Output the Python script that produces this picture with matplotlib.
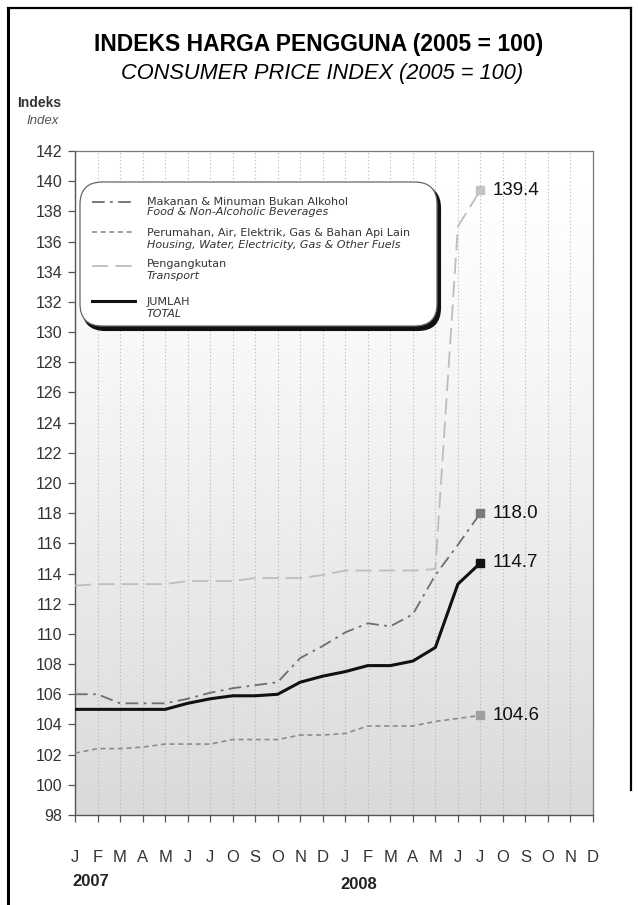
import matplotlib
matplotlib.use("Agg")
import matplotlib.pyplot as plt
import numpy as np
from matplotlib.lines import Line2D
from matplotlib.patches import FancyBboxPatch

# Monthly CPI, Jan 2007 .. Jul 2008 (2005 = 100)
months = ["J", "F", "M", "A", "M", "J", "J", "O", "S", "O", "N", "D"] * 2
food = [106.0, 106.0, 105.4, 105.4, 105.4, 105.7, 106.1, 106.4, 106.6, 106.8,
        108.4, 109.2, 110.1, 110.7, 110.5, 111.3, 113.9, 115.9, 118.0]
housing = [102.1, 102.4, 102.4, 102.5, 102.7, 102.7, 102.7, 103.0, 103.0, 103.0,
           103.3, 103.3, 103.4, 103.9, 103.9, 103.9, 104.2, 104.4, 104.6]
transport = [113.2, 113.3, 113.3, 113.3, 113.3, 113.5, 113.5, 113.5, 113.7, 113.7,
             113.7, 113.9, 114.2, 114.2, 114.2, 114.2, 114.3, 137.0, 139.4]
total = [105.0, 105.0, 105.0, 105.0, 105.0, 105.4, 105.7, 105.9, 105.9, 106.0,
         106.8, 107.2, 107.5, 107.9, 107.9, 108.2, 109.1, 113.3, 114.7]

legend_labels = [
    ("Makanan & Minuman Bukan Alkohol", "Food & Non-Alcoholic Beverages"),
    ("Perumahan, Air, Elektrik, Gas & Bahan Api Lain",
     "Housing, Water, Electricity, Gas & Other Fuels"),
    ("Pengangkutan", "Transport"),
    ("JUMLAH", "TOTAL"),
]

W, H = 638, 905
SANS = "Liberation Sans"
NARROW = dict(family=SANS, stretch="condensed")

fig = plt.figure(figsize=(W / 100, H / 100), dpi=100)
fig.patch.set_facecolor("white")


def fx(px):
    return px / W


def fy(py):
    return 1 - py / H


ax = fig.add_axes([fx(75), fy(815), fx(593) - fx(75), fy(151) - fy(815)])
ax.set_xlim(0, 23)
ax.set_ylim(98, 142)

# soft white-to-grey background
grad = 1 - 0.15 * np.linspace(0, 1, 256) ** 1.3
ax.imshow(grad.reshape(-1, 1), extent=[0, 23, 98, 142], aspect="auto",
          cmap="gray", vmin=0, vmax=1, zorder=0, origin="upper")

for i in range(24):
    ax.axvline(i, color="#b4b4b4", lw=0.8, ls=(0, (1, 2.2)), zorder=1)

x = np.arange(len(total))
styles = [
    (food, "#6e6e6e", (0, (7, 3, 1.5, 3)), 1.3, "#7a7a7a"),
    (housing, "#8c8c8c", (0, (3, 2.2)), 1.2, "#a0a0a0"),
    (transport, "#bdbdbd", (0, (9, 4)), 1.3, "#c4c4c4"),
    (total, "#111111", "-", 2.2, "#111111"),
]
for vals, col, ls, lw, mcol in styles:
    ax.plot(x, vals, color=col, ls=ls, lw=lw, zorder=3)
    ax.plot(x[-1], vals[-1], marker="s", ms=5.5, color=mcol, mec=mcol, zorder=4)
    ax.annotate(f"{vals[-1]:.1f}", (x[-1], vals[-1]), xytext=(9, 0),
                textcoords="offset points", va="center", ha="left",
                fontsize=13.5, color="#111111", zorder=5, **NARROW)

ax.set_yticks(np.arange(98, 143, 2))
ax.set_xticks(np.arange(24))
ax.set_xticklabels(months)
ax.tick_params(axis="y", length=5, width=0.9, color="#555555", labelsize=11.5,
               labelcolor="#333333", pad=4)
ax.tick_params(axis="x", length=5, width=0.9, color="#555555", labelsize=12,
               labelcolor="#333333", pad=20)
for lab in ax.get_xticklabels() + ax.get_yticklabels():
    lab.set_family(SANS)
    lab.set_stretch("condensed")
for side in ["left", "bottom"]:
    ax.spines[side].set_color("#555555")
    ax.spines[side].set_linewidth(1.0)
for side in ["top", "right"]:
    ax.spines[side].set_color("#777777")
    ax.spines[side].set_linewidth(0.9)

# year labels under the month letters
fig.text(fx(72), fy(881), "2007", fontsize=12, weight="bold", color="#222222",
         va="center", ha="left", **NARROW)
fig.text(fx(340), fy(884), "2008", fontsize=12, weight="bold", color="#222222",
         va="center", ha="left", **NARROW)

# titles
fig.text(0.5, fy(45), "INDEKS HARGA PENGGUNA (2005 = 100)", ha="center",
         va="center", fontsize=16.5, weight="bold", family=SANS, stretch="normal")
fig.text(0.505, fy(73), "CONSUMER PRICE INDEX (2005 = 100)", ha="center",
         va="center", fontsize=15.7, style="italic", family=SANS, stretch="normal")
fig.text(fx(17), fy(103), "Indeks", ha="left", va="center", fontsize=10,
         weight="bold", color="#333333", **NARROW)
fig.text(fx(26), fy(121), "Index", ha="left", va="center", fontsize=9.5,
         style="italic", color="#555555", **NARROW)

# legend box with dark drop shadow
bx0, by0, bx1, by1 = 80, 182, 437, 326
shadow = FancyBboxPatch((fx(bx0 + 3), fy(by1 + 4)), fx(bx1 - bx0), fy(by0) - fy(by1),
                        boxstyle="round,pad=0,rounding_size=0.035",
                        transform=fig.transFigure, facecolor="#111111",
                        edgecolor="#111111", lw=1.5, zorder=6, mutation_aspect=W / H)
box = FancyBboxPatch((fx(bx0), fy(by1)), fx(bx1 - bx0), fy(by0) - fy(by1),
                     boxstyle="round,pad=0,rounding_size=0.035",
                     transform=fig.transFigure, facecolor="white",
                     edgecolor="#666666", lw=0.9, zorder=7, mutation_aspect=W / H)
fig.add_artist(shadow)
fig.add_artist(box)

rows = [(202, 212), (233, 245), (264, 276), (302, 314)]
for (vals, col, ls, lw, _), (ty1, ty2), (l1, l2), ly in zip(
        styles, rows, legend_labels, [202, 232, 266, 301]):
    fig.add_artist(Line2D([fx(92), fx(135)], [fy(ly), fy(ly)], color=col, ls=ls,
                          lw=lw, transform=fig.transFigure, zorder=8))
    fig.text(fx(147), fy(ty1), l1, fontsize=8, color="#333333", va="center",
             ha="left", zorder=8, family="DejaVu Sans")
    fig.text(fx(147), fy(ty2), l2, fontsize=8, color="#333333", va="center",
             ha="left", style="italic", zorder=8, family="DejaVu Sans")

# outer frame
fig.add_artist(Line2D([fx(8), fx(8)], [fy(8), fy(905)], color="black", lw=2.2,
                      transform=fig.transFigure))
fig.add_artist(Line2D([fx(8), fx(631)], [fy(8), fy(8)], color="black", lw=1.6,
                      transform=fig.transFigure))
fig.add_artist(Line2D([fx(631), fx(631)], [fy(8), fy(790)], color="black", lw=1.6,
                      transform=fig.transFigure))

fig.savefig("out.png", dpi=100)
